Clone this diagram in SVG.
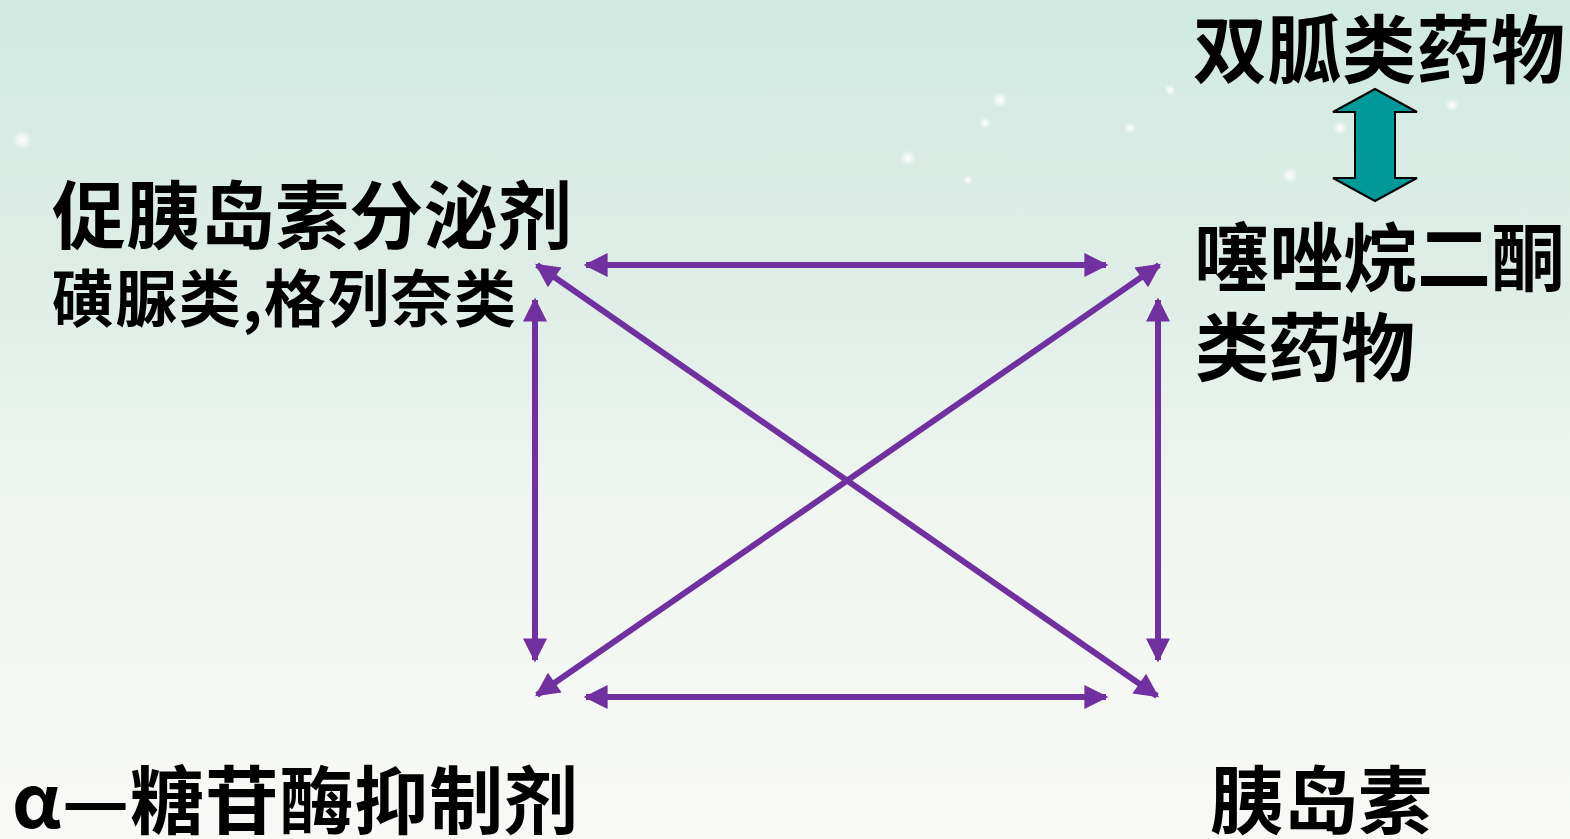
<svg xmlns="http://www.w3.org/2000/svg" width="1570" height="839" viewBox="0 0 1570 839">
<defs>
<linearGradient id="bg" x1="0" y1="0" x2="0" y2="1">
<stop offset="0" stop-color="#d0eae1"/>
<stop offset="0.35" stop-color="#dfeee7"/>
<stop offset="0.6" stop-color="#f0f5ef"/>
<stop offset="1" stop-color="#f8f9f6"/>
</linearGradient>
<radialGradient id="star">
<stop offset="0" stop-color="#ffffff" stop-opacity="1"/>
<stop offset="1" stop-color="#ffffff" stop-opacity="0"/>
</radialGradient>
<marker id="ah" viewBox="0 0 10 10" refX="9" refY="5" markerWidth="26" markerHeight="24" orient="auto-start-reverse" markerUnits="userSpaceOnUse">
<path d="M0,0 L10,5 L0,10 Z" fill="#7030a0"/>
</marker>
<style>
.t{font-family:"Noto Sans CJK SC","Noto Sans",sans-serif;font-weight:bold;fill:#000}
.c{stroke:#7030a0;stroke-width:6;fill:none;marker-start:url(#ah);marker-end:url(#ah)}
</style>
</defs>
<rect width="1570" height="839" fill="url(#bg)"/>
<g id="sparkles">
<circle cx="22" cy="140" r="10" fill="url(#star)"/>
<circle cx="1000" cy="100" r="8" fill="url(#star)"/>
<circle cx="908" cy="158" r="8" fill="url(#star)"/>
<circle cx="985" cy="123" r="6" fill="url(#star)"/>
<circle cx="1130" cy="128" r="6" fill="url(#star)"/>
<circle cx="1170" cy="90" r="6" fill="url(#star)"/>
<circle cx="1290" cy="175" r="8" fill="url(#star)"/>
<circle cx="1340" cy="128" r="7" fill="url(#star)"/>
<circle cx="1452" cy="105" r="7" fill="url(#star)"/>
<circle cx="968" cy="180" r="5" fill="url(#star)"/>
</g>
<g id="connectors">
<line class="c" x1="586" y1="265" x2="1106" y2="265"/>
<line class="c" x1="586" y1="697" x2="1106" y2="697"/>
<line class="c" x1="535" y1="300" x2="535" y2="660"/>
<line class="c" x1="1158" y1="300" x2="1158" y2="660"/>
<line class="c" x1="537" y1="265" x2="1157" y2="696"/>
<line class="c" x1="1159" y1="265" x2="537" y2="695"/>
</g>
<g id="teal-arrow">
<polygon points="1375,89 1417,112 1395,112 1395,178 1417,178 1375,201 1333,178 1355,178 1355,112 1333,112" fill="#009999" stroke="#000" stroke-width="2" stroke-linejoin="miter"/>
</g>
<g id="node-biguanide">
<text class="t" x="1193" y="77" font-size="74" textLength="372" lengthAdjust="spacing">双胍类药物</text>
</g>
<g id="node-secretagogue">
<text class="t" x="52" y="243" font-size="74" textLength="520" lengthAdjust="spacing">促胰岛素分泌剂</text>
<text class="t" x="52" y="322" font-size="62" textLength="464" lengthAdjust="spacing">磺脲类,格列奈类</text>
</g>
<g id="node-tzd">
<text class="t" x="1195" y="285" font-size="74" textLength="370" lengthAdjust="spacing">噻唑烷二酮</text>
<text class="t" x="1195" y="375" font-size="74" textLength="220" lengthAdjust="spacing">类药物</text>
</g>
<g id="node-agi">
<text class="t" x="12" y="828" font-size="74" textLength="566" lengthAdjust="spacing">α—糖苷酶抑制剂</text>
</g>
<g id="node-insulin">
<text class="t" x="1210" y="828" font-size="74" textLength="222" lengthAdjust="spacing">胰岛素</text>
</g>
</svg>
